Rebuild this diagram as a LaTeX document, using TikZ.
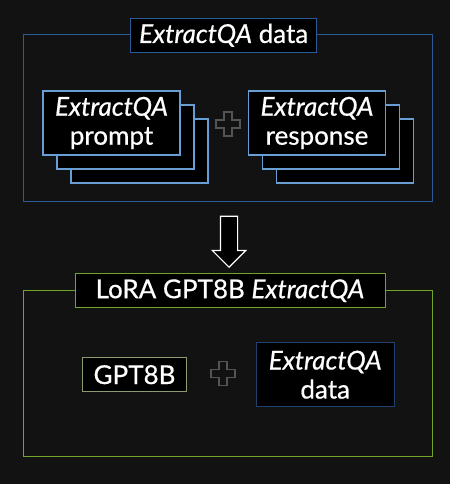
\documentclass[tikz,border=0pt]{standalone}
\usepackage{fontspec}
\setmainfont{Lato}[FakeBold=0.6]
\usetikzlibrary{shapes.arrows,calc}
\definecolor{bg}{RGB}{18,18,18}
\definecolor{blu}{RGB}{42,90,152}
\definecolor{lblu}{RGB}{104,158,212}
\definecolor{dblu}{RGB}{32,64,112}
\definecolor{grn}{RGB}{112,164,42}
\definecolor{sage}{RGB}{140,156,112}
\definecolor{plusc}{RGB}{84,84,84}

\begin{document}
\begin{tikzpicture}[x=1pt,y=-1pt,
    frame/.style={draw=blu,line width=1pt,minimum width=409pt,minimum height=166pt},
    title/.style={draw=blu,fill=black,line width=1pt,text=white,
                  minimum height=34pt,inner sep=0pt,
                  font=\fontsize{26}{29}\selectfont},
    card/.style={draw=lblu,fill=black,line width=1.5pt,text=white,
                 minimum width=137pt,minimum height=64pt,align=center,
                 font=\fontsize{26}{29}\selectfont},
    plussign/.pic={\draw[plusc,fill=bg,line width=1.2pt]
      (-4,-12) -- (4,-12) -- (4,-4) -- (12,-4) -- (12,4) -- (4,4) --
      (4,12) -- (-4,12) -- (-4,4) -- (-12,4) -- (-12,-4) -- (-4,-4) -- cycle;}]
  \fill[bg] (0,0) rectangle (450,484);

  % training data
  \node[frame] (data) at (228,118) {};
  \node[title,minimum width=186pt] (datat) at (223.7,35.3) {\textit{ExtractQA} data};
  \foreach \s in {28,14} {
    \node[card] (prompt-\s) at (111.5+\s,123+\s) {};
    \node[card] (resp-\s) at (317+\s,123+\s) {};
  }
  \node[card] (prompt) at (111.5,123) {\textit{ExtractQA}\\prompt};
  \node[card] (resp) at (317,123) {\textit{ExtractQA}\\response};
  \pic at (228,124) {plussign};

  % fine-tuned model
  \node[frame,draw=grn] (lora) at (228,373) {};
  \node[title,draw=grn,minimum width=310pt] (lorat) at (230,290.7)
    {LoRA GPT8B \textit{ExtractQA}};
  \node[card,draw=sage,line width=1.2pt,minimum width=104pt,minimum height=34pt]
    (gpt) at (134.5,374.7) {GPT8B};
  \pic at (223,373.3) {plussign};
  \node[card,draw=dblu,line width=1.2pt,minimum width=138pt]
    (qa) at (325.2,374.7) {\textit{ExtractQA}\\data};

  \node[single arrow,draw=white,fill=black,line width=1.2pt,rotate=-90,
        minimum height=51pt,inner sep=0pt,single arrow head extend=8pt]
    (arr) at ($(data.south)!0.5!(lorat.north)$) {\rule{0pt}{16pt}};
\end{tikzpicture}
\end{document}
